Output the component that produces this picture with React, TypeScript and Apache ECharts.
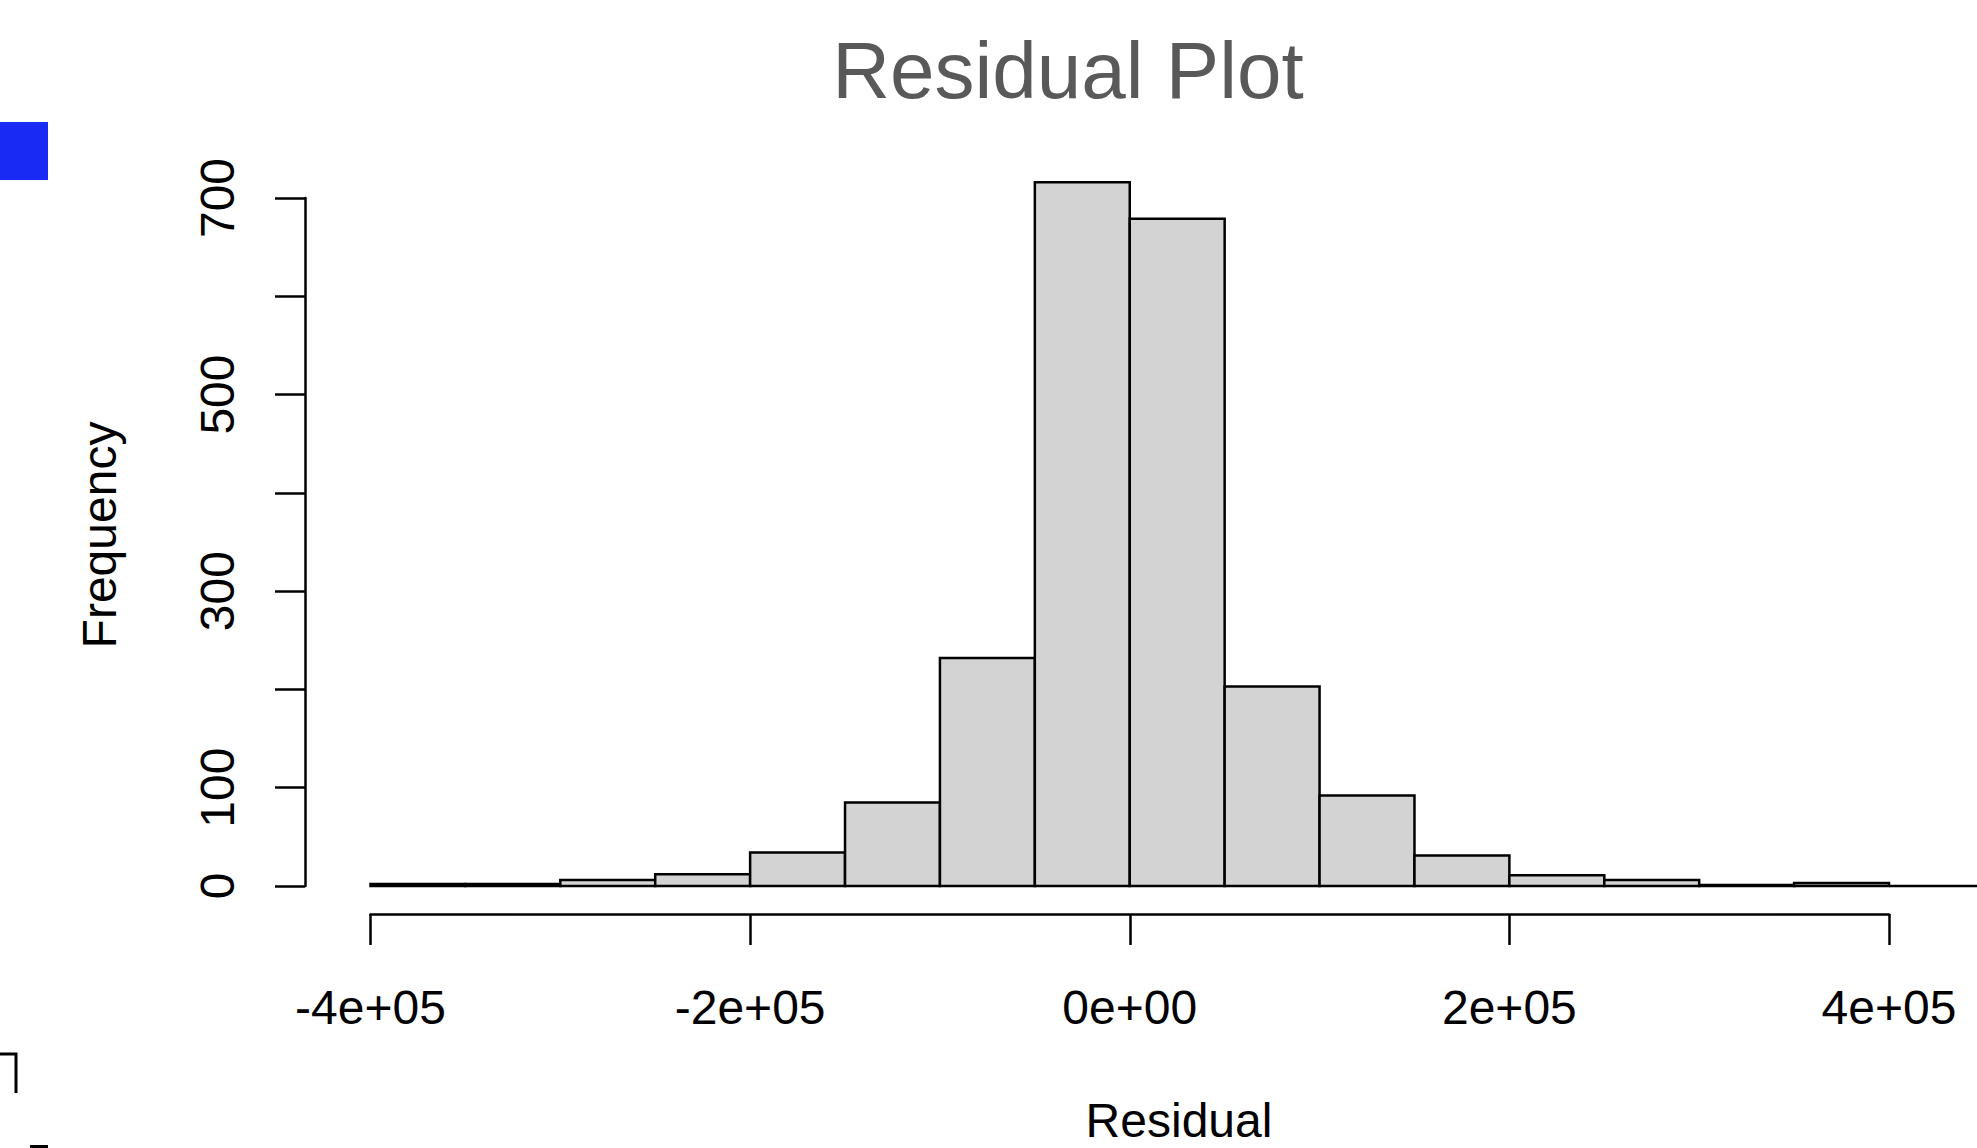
import React, { useEffect, useRef } from "react";
import * as echarts from "echarts";

const binStarts = [-400000, -350000, -300000, -250000, -200000, -150000, -100000, -50000, 0, 50000, 100000, 150000, 200000, 250000, 300000, 350000, 400000];
const binWidth = 50000;
const counts = [2, 2, 6, 12, 34, 85, 232, 716, 679, 203, 92, 31, 11, 6, 1, 3, 0];
const xTickValues = [-400000, -200000, 0, 200000, 400000];
const xTickLabels = ["-4e+05", "-2e+05", "0e+00", "2e+05", "4e+05"];
const yLabelShown = [0, 100, 300, 500, 700];

const FONT = "'Liberation Sans', Arial, Helvetica, sans-serif";

export default function App() {
  const ref = useRef<HTMLDivElement>(null);
  useEffect(() => {
    if (!ref.current) return;
    const chart = echarts.init(ref.current, null, { renderer: "svg" });
    const data = binStarts.map((s, i) => [s, s + binWidth, counts[i]]);
    const dataLeft = 370.5;
    const axisLeft = 305;
    const right = 1977 - 1889;
    const pxPerUnit = (1889 - dataLeft) / 800000;
    const histMin = -400000 - (dataLeft - axisLeft) / pxPerUnit;
    chart.setOption({
      animation: false,
      backgroundColor: "#ffffff",
      grid: [
        { left: axisLeft, right, top: 198, bottom: 1148 - 886 },
        { left: dataLeft, right, top: 900, bottom: 1148 - 914 },
      ],
      xAxis: [
        { type: "value", gridIndex: 0, min: histMin, max: 400000, show: false, axisLine: { onZero: false } },
        {
          type: "value",
          gridIndex: 1,
          min: -400000,
          max: 400000,
          interval: 200000,
          axisLine: { show: true, onZero: false, lineStyle: { color: "#000", width: 2.5 } },
          axisTick: { show: true, length: 31, lineStyle: { color: "#000", width: 2.5 } },
          axisLabel: {
            show: true,
            margin: 69,
            fontSize: 48,
            color: "#000",
            fontFamily: FONT,
            formatter: (v: number) => {
              const i = xTickValues.indexOf(v);
              return i >= 0 ? xTickLabels[i] : "";
            },
          },
          splitLine: { show: false },
        },
      ],
      yAxis: [
        {
          type: "value",
          gridIndex: 0,
          min: 0,
          max: 700,
          interval: 100,
          axisLine: { show: true, onZero: false, lineStyle: { color: "#000", width: 2.5 } },
          axisTick: { show: true, length: 30, lineStyle: { color: "#000", width: 2.5 } },
          axisLabel: {
            show: true,
            rotate: 90,
            margin: 64,
            fontSize: 48,
            color: "#000",
            fontFamily: FONT,
            formatter: (v: number) => (yLabelShown.indexOf(v) >= 0 ? String(v) : ""),
          },
          splitLine: { show: false },
        },
        { type: "value", gridIndex: 1, show: false, axisLine: { onZero: false } },
      ],
      series: [
        {
          type: "custom",
          xAxisIndex: 0,
          yAxisIndex: 0,
          clip: false,
          data,
          renderItem: (params: any, api: any) => {
            const x0 = api.value(0);
            const x1 = api.value(1);
            const c = api.value(2);
            const p0 = api.coord([x0, c]);
            const p1 = api.coord([x1, 0]);
            if (c === 0) {
              return {
                type: "line",
                shape: { x1: p0[0], y1: p1[1], x2: p1[0], y2: p1[1] },
                style: { stroke: "#000", lineWidth: 2.5 },
              };
            }
            return {
              type: "rect",
              shape: { x: p0[0], y: p0[1], width: p1[0] - p0[0], height: p1[1] - p0[1] },
              style: { fill: "#d3d3d3", stroke: "#000", lineWidth: 2.5 },
            };
          },
        },
      ],
      graphic: [
        {
          type: "text",
          x: 1068,
          y: 70.5,
          style: { text: "Residual Plot", fontSize: 80, fontFamily: FONT, fill: "#595959", align: "center", verticalAlign: "middle" },
        },
        {
          type: "text",
          x: 1179,
          y: 1120,
          style: { text: "Residual", fontSize: 48, lineHeight: 40, fontFamily: FONT, fill: "#000", align: "center", verticalAlign: "middle" },
        },
        {
          type: "text",
          x: 99,
          y: 535,
          rotation: Math.PI / 2,
          style: { text: "Frequency", fontSize: 48, fontFamily: FONT, fill: "#000", align: "center", verticalAlign: "middle" },
        },
        {
          type: "rect",
          shape: { x: 0, y: 122, width: 48, height: 58 },
          style: { fill: "#1a2af5" },
        },
        {
          type: "polyline",
          shape: { points: [[0, 1054], [16, 1054], [16, 1093]] },
          style: { stroke: "#000", lineWidth: 3, fill: "none" },
        },
        {
          type: "line",
          shape: { x1: 30, y1: 1147, x2: 48, y2: 1147 },
          style: { stroke: "#000", lineWidth: 4 },
        },
      ],
    });
    return () => chart.dispose();
  }, []);
  return (
    <div
      ref={ref}
      style={{ position: "absolute", left: 0, top: 0, width: 1977, height: 1148, background: "#fff" }}
    />
  );
}
